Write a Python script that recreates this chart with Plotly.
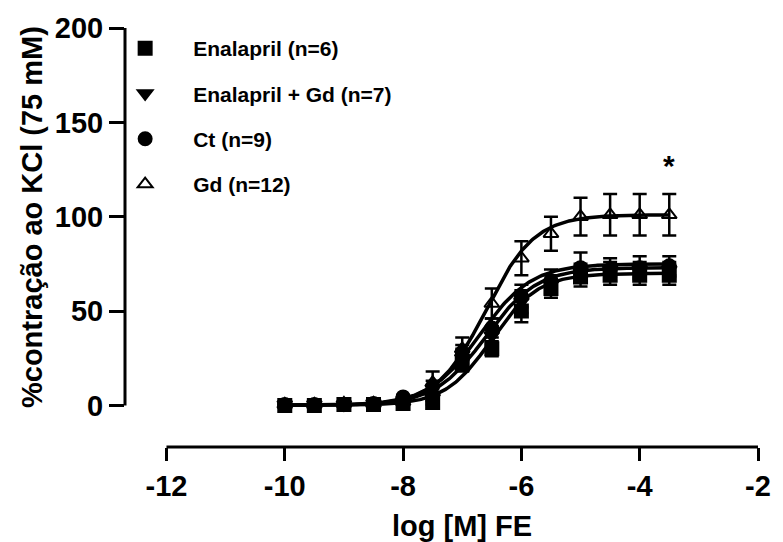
import numpy as np
import plotly.graph_objects as go

# ---------------- data ----------------
log_dose = [-10, -9.5, -9, -8.5, -8, -7.5, -7, -6.5, -6, -5.5, -5, -4.5, -4, -3.5]

series_names = ["Enalapril (n=6)", "Enalapril + Gd (n=7)", "Ct (n=9)", "Gd (n=12)"]

enalapril_mean = [0, 0, 0.5, 0.5, 1, 1.5, 22, 30, 50, 62, 68, 69, 69, 69]
enalapril_sem = [0.5, 0.5, 0.5, 0.5, 1, 1, 4, 4, 6, 5, 5, 5, 5, 5]

enal_gd_mean = [0.5, 0.5, 0.5, 1, 2, 4, 25, 37, 55, 64, 71, 72, 72, 72]
enal_gd_sem = [0.5, 0.5, 0.5, 0.5, 1, 2, 5, 5, 6, 5, 4, 4, 4, 4]

ct_mean = [0.5, 0.5, 0.5, 1, 4.5, 10, 28, 41, 58, 66, 73, 72, 73, 74]
ct_sem = [0.5, 0.5, 0.5, 0.5, 1, 3, 4, 5, 6, 6, 8, 6, 6, 5]

gd_mean = [0.5, 0.5, 1, 1, 2, 12, 30, 54, 78, 91, 100, 101, 101, 101]
gd_sem = [0.5, 0.5, 0.5, 0.5, 1, 6, 6, 8, 9, 9, 10, 11, 11, 11]

# sigmoidal (4-parameter logistic) fit parameters per series: bottom, top, logEC50, hill
fit_bottom = [0, 0, 0, 0]
fit_top = [70, 73, 75, 101]
fit_logec50 = [-6.5, -6.6, -6.7, -6.6]
fit_hill = [1.1, 1.0, 1.0, 1.05]

x_ticks = [-12, -10, -8, -6, -4, -2]
x_tick_labels = ["-12", "-10", "-8", "-6", "-4", "-2"]
y_ticks = [0, 50, 100, 150, 200]
y_tick_labels = ["0", "50", "100", "150", "200"]

# ---------------- style ----------------
FONT = "Liberation Sans, Arial, sans-serif"
symbols = ["square", "triangle-down", "circle", "triangle-up-open"]
sizes = [13, 13, 13, 13]
means = [enalapril_mean, enal_gd_mean, ct_mean, gd_mean]
sems = [enalapril_sem, enal_gd_sem, ct_sem, gd_sem]

fig = go.Figure()

x_fit = np.linspace(log_dose[0], log_dose[-1], 300)
# draw Gd first so the filled markers stay on top
order = [3, 0, 1, 2]
for i in order:
    y_fit = fit_bottom[i] + (fit_top[i] - fit_bottom[i]) / (1 + 10 ** ((fit_logec50[i] - x_fit) * fit_hill[i]))
    fig.add_trace(go.Scatter(
        x=x_fit, y=y_fit, mode="lines",
        line=dict(color="black", width=3.5),
        showlegend=False, hoverinfo="skip", cliponaxis=False,
    ))
for i in order:
    fig.add_trace(go.Scatter(
        x=log_dose, y=means[i], mode="markers",
        name=series_names[i], legendrank=i + 1, legendgroup=str(i),
        marker=dict(symbol=symbols[i], size=sizes[i], color="black",
                    line=dict(color="black", width=2)),
        error_y=dict(type="data", array=sems[i], visible=True,
                     color="black", thickness=2.5, width=7),
        cliponaxis=False,
    ))

# axis lines (offset style)
fig.add_shape(type="line", xref="paper", yref="y", x0=0, x1=0, y0=0, y1=200,
              line=dict(color="black", width=3))
fig.add_shape(type="line", xref="x", yref="paper", x0=-12, x1=-2, y0=0, y1=0,
              line=dict(color="black", width=3))

fig.add_annotation(x=-7, y=-0.145, xref="x", yref="paper", text="log [M] FE",
                   showarrow=False, yanchor="top",
                   font=dict(family=FONT, size=29, color="black", weight="bold"))
fig.add_annotation(x=-0.148, y=100, xref="paper", yref="y", text="%contração ao KCl (75 mM)",
                   showarrow=False, textangle=-90, xanchor="center",
                   font=dict(family=FONT, size=29, color="black", weight="bold"))
fig.add_annotation(x=log_dose[-1], y=127, xref="x", yref="y", text="*",
                   showarrow=False,
                   font=dict(family=FONT, size=30, color="black", weight="bold"))

fig.update_layout(
    width=783, height=542,
    margin=dict(l=125, r=17, t=24, b=95),
    paper_bgcolor="white", plot_bgcolor="white",
    font=dict(family=FONT, color="black"),
    xaxis=dict(range=[-12.701, -2], tickvals=x_ticks, ticktext=x_tick_labels,
               ticks="outside", ticklen=13,
               tickwidth=3, tickcolor="black", showline=False, showgrid=False,
               zeroline=False,
               tickfont=dict(family=FONT, size=29, color="black", weight="bold")),
    yaxis=dict(range=[-22.05, 200], tickvals=y_ticks, ticktext=y_tick_labels,
               ticks="outside", ticklen=15,
               tickwidth=3, tickcolor="black", showline=False, showgrid=False,
               zeroline=False,
               tickfont=dict(family=FONT, size=29, color="black", weight="bold")),
    legend=dict(x=-0.044, y=1.0, xanchor="left", yanchor="top",
                bgcolor="rgba(0,0,0,0)", tracegroupgap=15, itemwidth=86,
                font=dict(family=FONT, size=21, color="black", weight="bold")),
    showlegend=True,
)

fig.write_html("out.html")
